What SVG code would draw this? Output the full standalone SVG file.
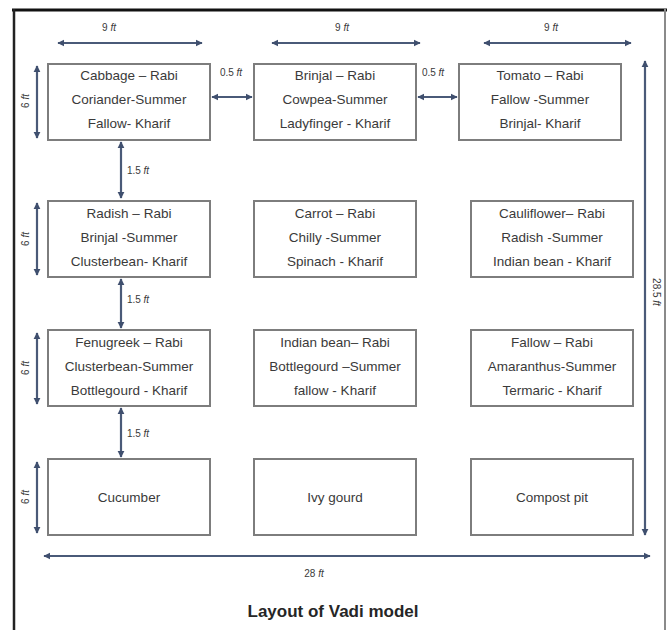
<svg xmlns="http://www.w3.org/2000/svg" width="669" height="630" viewBox="0 0 669 630">
<defs>
<marker id="ah" viewBox="0 0 10 10" refX="9" refY="5" markerWidth="3.2" markerHeight="3.2" orient="auto-start-reverse" markerUnits="strokeWidth">
<path d="M0,0 L10,5 L0,10 z" fill="#3f4f6e"/>
</marker>
<style>
.bx{fill:#fff;stroke:#7d7d7d;stroke-width:2}
.t{font-family:"Liberation Sans",Arial,sans-serif;font-size:13.5px;fill:#3a3a3a;text-anchor:middle}
.s{font-family:"Liberation Sans",Arial,sans-serif;font-size:10px;fill:#3a3a3a;text-anchor:middle}
.ar{stroke:#4a5a78;stroke-width:2.2;fill:none;marker-start:url(#ah);marker-end:url(#ah)}
.ti{font-family:"Liberation Sans",Arial,sans-serif;font-size:17px;font-weight:bold;fill:#262626;text-anchor:middle}
</style>
</defs>
<rect x="0" y="0" width="669" height="630" fill="#fff"/>
<g id="frame">
<line x1="12" y1="10" x2="667" y2="10" stroke="#111" stroke-width="3"/>
<line x1="14" y1="9" x2="14" y2="630" stroke="#222" stroke-width="2.5"/>
<line x1="665" y1="9" x2="665" y2="630" stroke="#8a8a8a" stroke-width="2"/>
</g>
<g id="connectors">
<line class="ar" x1="58" y1="43" x2="202" y2="43"/>
<line class="ar" x1="272" y1="43" x2="420" y2="43"/>
<line class="ar" x1="484" y1="43" x2="631" y2="43"/>
<line class="ar" x1="212" y1="97" x2="252" y2="97"/>
<line class="ar" x1="418" y1="97" x2="457" y2="97"/>
<line class="ar" x1="121" y1="142" x2="121" y2="198"/>
<line class="ar" x1="121" y1="279" x2="121" y2="328"/>
<line class="ar" x1="121" y1="408" x2="121" y2="457"/>
<line class="ar" x1="37" y1="66" x2="37" y2="138"/>
<line class="ar" x1="37" y1="203" x2="37" y2="275"/>
<line class="ar" x1="37" y1="333" x2="37" y2="404"/>
<line class="ar" x1="37" y1="462" x2="37" y2="533"/>
<line class="ar" x1="645" y1="61" x2="645" y2="535"/>
<line class="ar" x1="44" y1="556" x2="650" y2="556"/>
</g>
<g id="labels">
<text class="s" x="109" y="31">9 <tspan font-style="italic">ft</tspan></text>
<text class="s" x="342" y="31">9 <tspan font-style="italic">ft</tspan></text>
<text class="s" x="551" y="31">9 <tspan font-style="italic">ft</tspan></text>
<text class="s" x="231" y="76">0.5 <tspan font-style="italic">ft</tspan></text>
<text class="s" x="433" y="76">0.5 <tspan font-style="italic">ft</tspan></text>
<text class="s" x="138" y="174">1.5 <tspan font-style="italic">ft</tspan></text>
<text class="s" x="138" y="303">1.5 <tspan font-style="italic">ft</tspan></text>
<text class="s" x="138" y="437">1.5 <tspan font-style="italic">ft</tspan></text>
<text class="s" transform="translate(29,101) rotate(-90)">6 <tspan font-style="italic">ft</tspan></text>
<text class="s" transform="translate(29,239) rotate(-90)">6 <tspan font-style="italic">ft</tspan></text>
<text class="s" transform="translate(29,368) rotate(-90)">6 <tspan font-style="italic">ft</tspan></text>
<text class="s" transform="translate(29,497) rotate(-90)">6 <tspan font-style="italic">ft</tspan></text>
<text class="s" transform="translate(653,292) rotate(90)">28.5 <tspan font-style="italic">ft</tspan></text>
<text class="s" x="314" y="577">28 <tspan font-style="italic">ft</tspan></text>
<text class="ti" x="333" y="617">Layout of Vadi model</text>
</g>
<g id="cabbage"><rect class="bx" x="48" y="64" width="162" height="76"/>
<text class="t" x="129" y="80">Cabbage – Rabi</text><text class="t" x="129" y="104">Coriander-Summer</text><text class="t" x="129" y="128">Fallow- Kharif</text></g>
<g id="brinjal"><rect class="bx" x="254" y="64" width="162" height="76"/>
<text class="t" x="335" y="80">Brinjal – Rabi</text><text class="t" x="335" y="104">Cowpea-Summer</text><text class="t" x="335" y="128">Ladyfinger - Kharif</text></g>
<g id="tomato"><rect class="bx" x="459" y="64" width="162" height="76"/>
<text class="t" x="540" y="80">Tomato – Rabi</text><text class="t" x="540" y="104">Fallow -Summer</text><text class="t" x="540" y="128">Brinjal- Kharif</text></g>
<g id="radish"><rect class="bx" x="48" y="201" width="162" height="76"/>
<text class="t" x="129" y="218">Radish – Rabi</text><text class="t" x="129" y="242">Brinjal -Summer</text><text class="t" x="129" y="266">Clusterbean- Kharif</text></g>
<g id="carrot"><rect class="bx" x="254" y="201" width="162" height="76"/>
<text class="t" x="335" y="218">Carrot – Rabi</text><text class="t" x="335" y="242">Chilly -Summer</text><text class="t" x="335" y="266">Spinach - Kharif</text></g>
<g id="cauliflower"><rect class="bx" x="471" y="201" width="162" height="76"/>
<text class="t" x="552" y="218">Cauliflower– Rabi</text><text class="t" x="552" y="242">Radish -Summer</text><text class="t" x="552" y="266">Indian bean - Kharif</text></g>
<g id="fenugreek"><rect class="bx" x="48" y="330" width="162" height="76"/>
<text class="t" x="129" y="347">Fenugreek – Rabi</text><text class="t" x="129" y="371">Clusterbean-Summer</text><text class="t" x="129" y="395">Bottlegourd - Kharif</text></g>
<g id="indianbean"><rect class="bx" x="254" y="330" width="162" height="76"/>
<text class="t" x="335" y="347">Indian bean– Rabi</text><text class="t" x="335" y="371">Bottlegourd –Summer</text><text class="t" x="335" y="395">fallow - Kharif</text></g>
<g id="fallow"><rect class="bx" x="471" y="330" width="162" height="76"/>
<text class="t" x="552" y="347">Fallow – Rabi</text><text class="t" x="552" y="371">Amaranthus-Summer</text><text class="t" x="552" y="395">Termaric - Kharif</text></g>
<g id="cucumber"><rect class="bx" x="48" y="459" width="162" height="76"/>
<text class="t" x="129" y="502">Cucumber</text></g>
<g id="ivygourd"><rect class="bx" x="254" y="459" width="162" height="76"/>
<text class="t" x="335" y="502">Ivy gourd</text></g>
<g id="compost"><rect class="bx" x="471" y="459" width="162" height="76"/>
<text class="t" x="552" y="502">Compost pit</text></g>
</svg>
